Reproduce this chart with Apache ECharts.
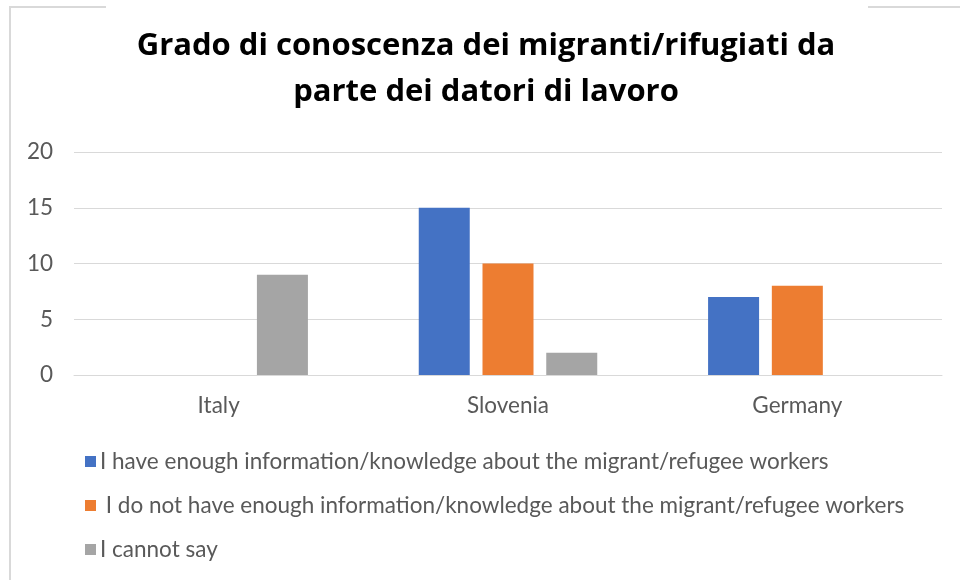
<!DOCTYPE html>
<html>
<head>
<meta charset="utf-8">
<style>
  html, body { margin: 0; padding: 0; background: #ffffff; }
  #chart { width: 960px; height: 580px; }
</style>
<script src="https://cdn.jsdelivr.net/npm/echarts@6/dist/echarts.min.js"></script>
</head>
<body>
<div id="chart"></div>
<script>
// Categories and series values
const countries = ['Italy', 'Slovenia', 'Germany'];
const seriesNames = [
  'I have enough information/knowledge about the migrant/refugee workers',
  ' I do not have enough information/knowledge about the migrant/refugee workers',
  'I cannot say'
];
const enoughInfo = [0, 15, 7];
const notEnoughInfo = [0, 10, 8];
const cannotSay = [9, 2, 0];
const seriesColors = ['#4472c4', '#ed7d31', '#a5a5a5'];

const chart = echarts.init(document.getElementById('chart'));
const textColor = '#595959';
const titleFont = '"Open Sans", "Noto Sans", sans-serif';
const bodyFont = 'Lato, "Open Sans", sans-serif';

const values = [enoughInfo, notEnoughInfo, cannotSay];

chart.setOption({
  animation: false,
  backgroundColor: '#ffffff',
  title: {
    text: 'Grado di conoscenza dei migranti/rifugiati da\nparte dei datori di lavoro',
    left: 481,
    top: 18,
    textAlign: 'center',
    textStyle: {
      fontFamily: titleFont,
      fontWeight: 'bold',
      fontSize: 31,
      lineHeight: 46,
      color: '#000000'
    }
  },
  graphic: [
    { type: 'polyline', shape: { points: [[10, 580], [10, 7], [106, 7]] },
      style: { stroke: '#d9d9d9', lineWidth: 2, fill: null } },
    { type: 'line', shape: { x1: 868, y1: 7, x2: 960, y2: 7 },
      style: { stroke: '#d9d9d9', lineWidth: 2 } }
  ],
  legend: {
    orient: 'vertical',
    left: 80,
    top: 445,
    itemWidth: 11,
    itemHeight: 11,
    itemGap: 21,
    icon: 'rect',
    textStyle: { color: textColor, fontFamily: bodyFont, fontSize: 22.5, padding: [0, 0, 0, -1] },
    data: seriesNames
  },
  grid: { left: 74, right: 18, top: 152, bottom: 205, containLabel: false },
  xAxis: {
    type: 'category',
    data: countries,
    axisLine: { show: true, lineStyle: { color: '#d9d9d9', width: 1 } },
    axisTick: { show: false },
    axisLabel: { color: textColor, fontFamily: bodyFont, fontSize: 22.5, margin: 19 }
  },
  yAxis: {
    type: 'value',
    min: 0,
    max: 20,
    interval: 5,
    axisLine: { show: false },
    axisTick: { show: false },
    splitLine: { lineStyle: { color: '#d9d9d9', width: 1 } },
    axisLabel: { color: textColor, fontFamily: bodyFont, fontSize: 22.5, margin: 21 }
  },
  series: seriesNames.map((name, i) => ({
    name: name,
    type: 'bar',
    data: values[i],
    barWidth: 51,
    barGap: '25%',
    itemStyle: { color: seriesColors[i] }
  }))
});
</script>
</body>
</html>
